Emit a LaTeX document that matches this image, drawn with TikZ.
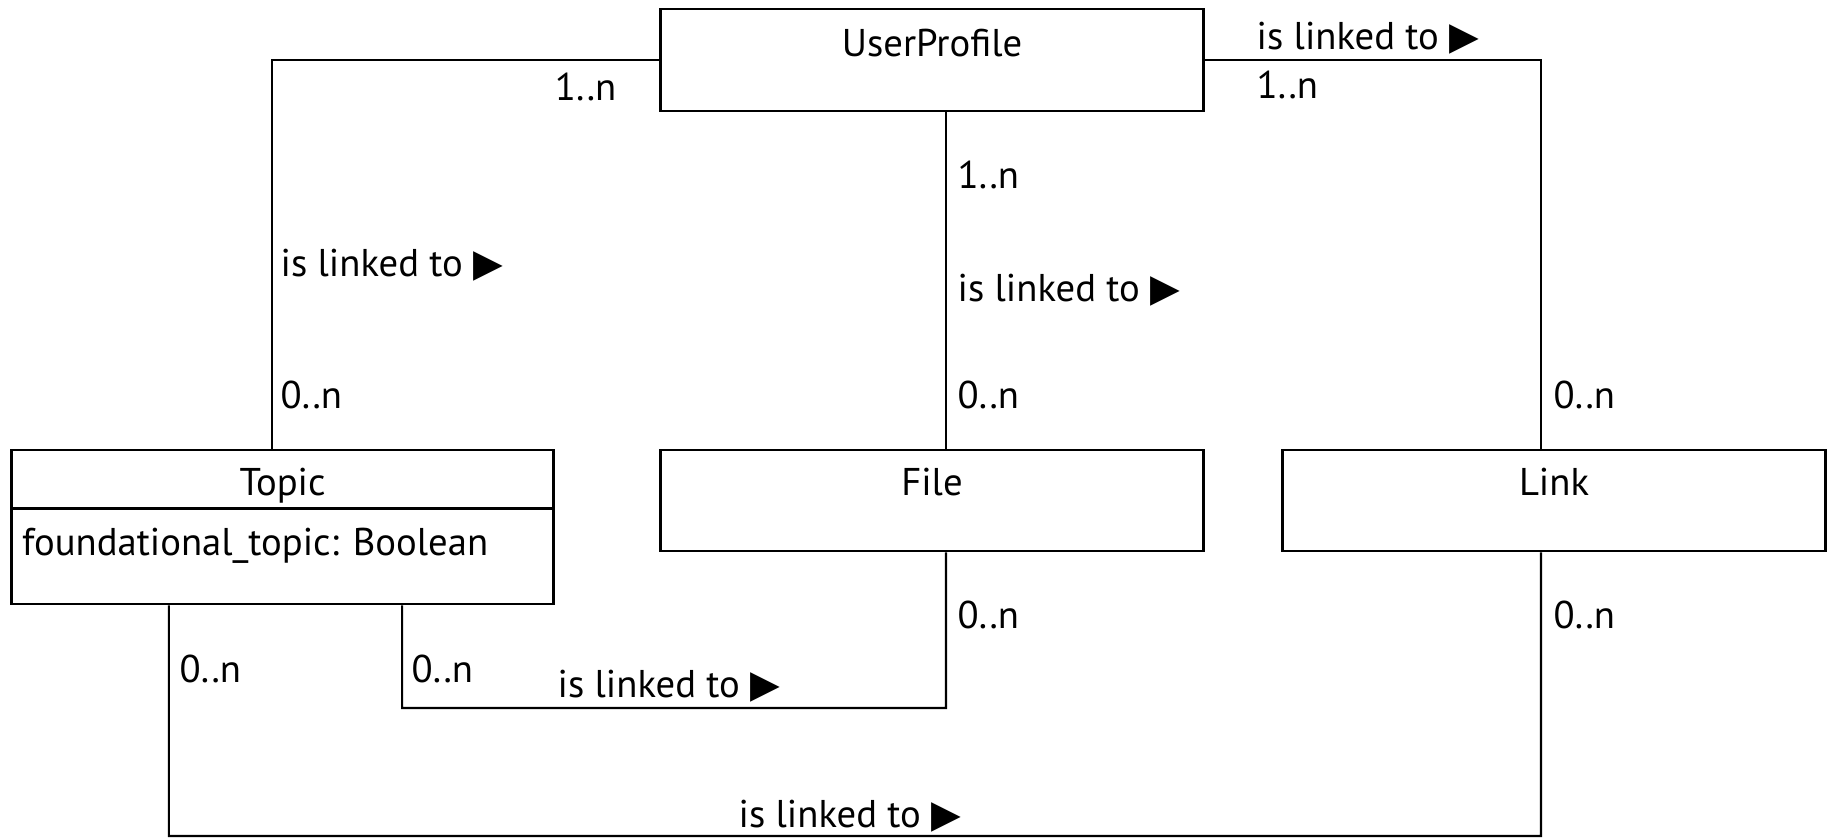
\documentclass[tikz,border=0pt]{standalone}
\usepackage{fontspec}
\setmainfont{PT Sans}
\newfontfamily\symfont{DejaVu Sans}
\usetikzlibrary{positioning}

\newcommand{\islinked}{is linked to {\symfont ▶}}

\begin{document}
\begin{tikzpicture}[x=0.01cm, y=-0.01cm, font=\fontsize{11}{13}\selectfont,
		classbox/.style={draw, line width=0.8pt, inner sep=0pt},
		assoc/.style={draw, line width=0.6pt},
		lbl/.style={anchor=mid west, inner sep=0pt}]
	% Рамка рисунка
	\useasboundingbox (0,0) rectangle (1831,839);
	
	% Классы
	\node[classbox, minimum width=5.42cm, minimum height=1.02cm] (user) at (932,60) {};
	\node[classbox, minimum width=5.41cm, minimum height=1.54cm] (topic) at (282.5,527) {};
	\node[classbox, minimum width=5.42cm, minimum height=1.01cm] (file) at (932,500.5) {};
	\node[classbox, minimum width=5.42cm, minimum height=1.01cm] (link) at (1554,500.5) {};
	
	% Названия классов
	\node[anchor=base] (usertitle) at ([yshift=-0.49cm]user.north) {UserProfile};
	\node[anchor=base] (topictitle) at ([yshift=-0.47cm]topic.north) {Topic};
	\node[anchor=base] (filetitle) at ([yshift=-0.47cm]file.north) {File};
	\node[anchor=base] (linktitle) at ([yshift=-0.47cm]link.north) {Link};
	
	% Атрибут темы
	\draw[line width=0.8pt] ([yshift=-0.6cm]topic.north west) -- ([yshift=-0.6cm]topic.north east);
	\node[anchor=base west, inner sep=0pt] (topicattr) at ([xshift=0.11cm, yshift=-1.07cm]topic.north west) {foundational\_topic: Boolean};
	
	% Точки изгиба
	\coordinate (tf) at (946,708);
	\coordinate (tl) at (1541,836);
	
	% Связи
	\draw[assoc] (user.west) -| ([xshift=-0.105cm]topic.north);
	\draw[assoc] ([xshift=0.14cm]user.south) -- ([xshift=0.14cm]file.north);
	\draw[assoc] (user.east) -| ([xshift=-0.13cm]link.north);
	\draw[assoc] ([xshift=1.195cm]topic.south) |- (tf) -- ([xshift=0.14cm]file.south);
	\draw[assoc] ([xshift=-1.135cm]topic.south) |- (tl) -- ([xshift=-0.13cm]link.south);
	
	% Подписи: UserProfile -- Topic
	\node[anchor=mid east, inner sep=0pt] (ut1) at (617,92) {1..n};
	\node[lbl] (ut2) at (280,268) {\islinked};
	\node[lbl] (ut3) at (280,400) {0..n};
	
	% Подписи: UserProfile -- File
	\node[lbl] (uf1) at (957,180) {1..n};
	\node[lbl] (uf2) at (957,293) {\islinked};
	\node[lbl] (uf3) at (957,400) {0..n};
	
	% Подписи: UserProfile -- Link
	\node[lbl] (ul1) at (1256,41) {\islinked};
	\node[lbl] (ul2) at (1256,90) {1..n};
	\node[lbl] (ul3) at (1553,400) {0..n};
	
	% Подписи: Topic -- File
	\node[lbl] (tf1) at (411,674) {0..n};
	\node[lbl] (tf2) at (557,689) {\islinked};
	\node[lbl] (tf3) at (957,620) {0..n};
	
	% Подписи: Topic -- Link
	\node[lbl] (tl1) at (179,674) {0..n};
	\node[lbl] (tl2) at (738,819) {\islinked};
	\node[lbl] (tl3) at (1553,620) {0..n};
\end{tikzpicture}
\end{document}
